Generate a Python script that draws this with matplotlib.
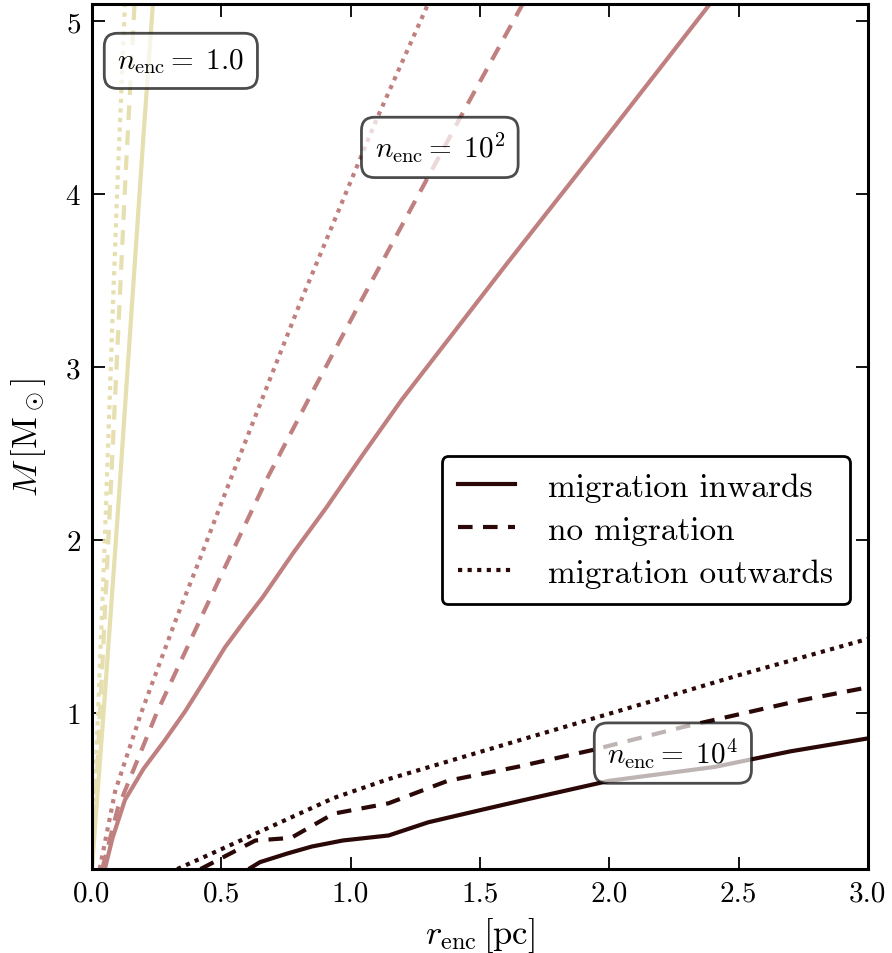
import matplotlib
matplotlib.use("Agg")
import matplotlib.pyplot as plt

plt.rcParams["font.family"] = "serif"
plt.rcParams["font.serif"] = ["cmr10", "DejaVu Serif"]
plt.rcParams["mathtext.fontset"] = "cm"
plt.rcParams["axes.unicode_minus"] = False
plt.rcParams["axes.formatter.use_mathtext"] = True

# ---- data (r_enc [pc], M [Msun]) ----
# n_enc = 1.0
r_n1_in  = [0.0, 0.05, 0.10, 0.15, 0.20, 0.236]
m_n1_in  = [0.1, 1.10, 2.15, 3.25, 4.35, 5.10]
r_n1_no  = [0.0, 0.03, 0.07, 0.10, 0.13, 0.165]
m_n1_no  = [0.1, 0.95, 2.20, 3.15, 4.10, 5.10]
r_n1_out = [0.0, 0.02, 0.05, 0.08, 0.10, 0.128]
m_n1_out = [0.1, 0.85, 2.00, 3.30, 4.10, 5.10]

# n_enc = 1e2
r_n2_in  = [0.05, 0.08, 0.128, 0.20, 0.28, 0.36, 0.44, 0.514, 0.598, 0.66, 0.78, 0.907, 1.05, 1.197, 1.6, 2.01, 2.39]
m_n2_in  = [0.10, 0.28, 0.50, 0.68, 0.84, 1.01, 1.20, 1.38, 1.55, 1.67, 1.93, 2.19, 2.50, 2.81, 3.59, 4.37, 5.10]
r_n2_no  = [0.04, 0.10, 0.25, 0.437, 0.675, 0.843, 1.036, 1.434, 1.666]
m_n2_no  = [0.10, 0.45, 1.00, 1.60, 2.35, 2.83, 3.37, 4.47, 5.10]
r_n2_out = [0.03, 0.09, 0.19, 0.327, 0.417, 0.52, 0.688, 0.81, 1.10, 1.30]
m_n2_out = [0.10, 0.55, 1.00, 1.55, 1.89, 2.29, 2.93, 3.39, 4.43, 5.10]

# n_enc = 1e4
r_n4_in  = [0.606, 0.65, 0.756, 0.85, 0.97, 1.147, 1.3, 1.5, 1.662, 2.0, 2.407, 2.7, 3.0]
m_n4_in  = [0.10, 0.14, 0.19, 0.23, 0.265, 0.294, 0.37, 0.44, 0.496, 0.61, 0.69, 0.78, 0.855]
r_n4_no  = [0.42, 0.632, 0.77, 0.934, 1.147, 1.376, 1.643, 1.93, 2.283, 2.74, 3.0]
m_n4_no  = [0.10, 0.265, 0.28, 0.42, 0.48, 0.61, 0.69, 0.786, 0.92, 1.075, 1.15]
r_n4_out = [0.33, 0.597, 0.934, 1.147, 1.643, 2.176, 2.5, 3.0]
m_n4_out = [0.10, 0.28, 0.51, 0.62, 0.84, 1.075, 1.22, 1.43]

labels = ["migration inwards", "no migration", "migration outwards"]
box_text = [r"$n_\mathrm{enc}=\;1.0$", r"$n_\mathrm{enc}=\;10^2$", r"$n_\mathrm{enc}=\;10^4$"]
box_x = [0.344, 1.345, 2.246]
box_y = [4.77, 4.27, 0.77]

c1, c2, c4 = "#e6dfb0", "#c08080", "#2b0808"
LW = 3
DASH = (3.5, 2.5)
DOT = (1.0, 1.3)

fig, ax = plt.subplots(figsize=(8.92, 9.54), dpi=100)
fig.subplots_adjust(left=0.103, right=0.973, bottom=0.088, top=0.995)

groups = [
    (c1, [(r_n1_in, m_n1_in), (r_n1_no, m_n1_no), (r_n1_out, m_n1_out)]),
    (c2, [(r_n2_in, m_n2_in), (r_n2_no, m_n2_no), (r_n2_out, m_n2_out)]),
    (c4, [(r_n4_in, m_n4_in), (r_n4_no, m_n4_no), (r_n4_out, m_n4_out)]),
]
for col, curves in groups:
    for i, (r, m) in enumerate(curves):
        ln, = ax.plot(r, m, color=col, lw=LW, solid_capstyle="butt",
                      solid_joinstyle="round")
        if i == 1:
            ln.set_dashes(DASH)
        elif i == 2:
            ln.set_dashes(DOT)

# legend proxies
h1, = ax.plot([], [], color=c4, lw=LW)
h2, = ax.plot([], [], color=c4, lw=LW, dashes=DASH)
h3, = ax.plot([], [], color=c4, lw=LW, dashes=DOT)
leg = ax.legend([h1, h2, h3], labels, loc="lower right",
                bbox_to_anchor=(0.977, 0.306), fontsize=24, fancybox=True,
                framealpha=1, edgecolor="black", handlelength=1.7,
                handletextpad=1.0, borderpad=0.5, labelspacing=0.4,
                borderaxespad=0.0)
leg.get_frame().set_linewidth(2)

for t, x, y in zip(box_text, box_x, box_y):
    ax.text(x, y, t, fontsize=21, ha="center", va="center", zorder=5,
            bbox=dict(boxstyle="round,pad=0.45", fc="white", ec="black",
                      alpha=0.7, lw=2))

ax.set_xlim(0, 3.0)
ax.set_ylim(0.1, 5.1)
ax.set_xticks([0.0, 0.5, 1.0, 1.5, 2.0, 2.5, 3.0])
ax.set_xticklabels(["0.0", "0.5", "1.0", "1.5", "2.0", "2.5", "3.0"])
ax.set_yticks([1, 2, 3, 4, 5])
ax.tick_params(direction="in", top=True, right=True, length=9, width=1.3,
               labelsize=21, pad=8)
for s in ax.spines.values():
    s.set_linewidth(2.2)

ax.set_xlabel(r"$r_\mathrm{enc}\,[\mathrm{pc}]$", fontsize=25, labelpad=6)
ax.set_ylabel(r"$M\,[\mathrm{M}_\odot]$", fontsize=25, labelpad=12)

fig.savefig("out.png", dpi=100)
